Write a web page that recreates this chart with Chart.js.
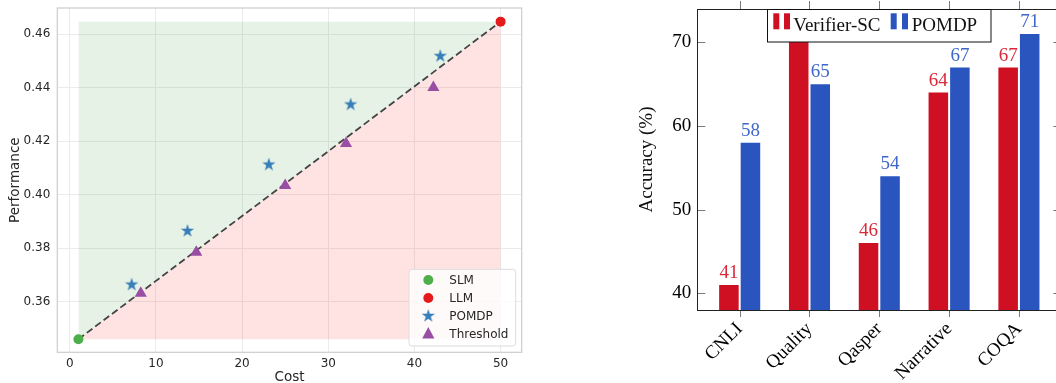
<!DOCTYPE html>
<html>
<head>
<meta charset="utf-8">
<script src="https://cdn.jsdelivr.net/npm/chart.js@4.4.1/dist/chart.umd.min.js"></script>
<style>
  html, body { margin: 0; padding: 0; background: #fff; overflow: hidden; width: 1056px; height: 383px; }
  #left { position: absolute; left: 0; top: 0; }
  #right { position: absolute; left: 600px; top: 0; }
</style>
</head>
<body>
<canvas id="left" width="540" height="383"></canvas>
<canvas id="right" width="480" height="383"></canvas>
<script>
// left panel - cost vs performance
const SLM_POINT = [{ x: 1, y: 0.3459 }];
const LLM_POINT = [{ x: 50, y: 0.4647 }];
const POMDP_COST = [7.18, 13.66, 23.1, 32.6, 43.0];
const POMDP_PERF = [0.3663, 0.3864, 0.4112, 0.4337, 0.4518];
const THRESH_COST = [8.24, 14.68, 25.0, 32.06, 42.2];
const THRESH_PERF = [0.3631, 0.3784, 0.4034, 0.4191, 0.4401];
const COST_TICKS = [0, 10, 20, 30, 40, 50];
const PERF_TICKS = [0.36, 0.38, 0.40, 0.42, 0.44, 0.46];
const LEFT_LEGEND = ["SLM", "LLM", "POMDP", "Threshold"];

// right panel - accuracy per dataset
const DATASETS = ["CNLI", "Quality", "Qasper", "Narrative", "COQA"];
const VERIFIER_SC = [41, 75, 46, 64, 67]; // Quality bar runs off the top, hidden by the legend
const POMDP_ACC = [58, 65, 54, 67, 71];
const ACC_TICKS = [40, 50, 60, 70];

const SANS = '"DejaVu Sans", sans-serif';
const SERIF = '"Liberation Serif", "DejaVu Serif", serif';
const GREEN = "#4daf4a", RED = "#e41a1c", BLUE = "#377eb8", PURPLE = "#984ea3";

const pts = (xs, ys) => xs.map((x, i) => ({ x, y: ys[i] }));

// fixed axis box sizes, and no extra label overhang padding from chart.js
const fixSize = (w, h) => (s) => {
  if (w != null) s.width = w;
  if (h != null) s.height = h;
  s.paddingLeft = s.paddingRight = s.paddingTop = s.paddingBottom = 0;
};

// matplotlib-ish filled star, used as a point style
function starImage(r, color) {
  const c = document.createElement("canvas");
  const s = Math.ceil(r * 2 + 2);
  c.width = c.height = s;
  const g = c.getContext("2d");
  g.translate(s / 2, s / 2);
  g.beginPath();
  for (let i = 0; i < 10; i++) {
    const rad = i % 2 ? r * 0.382 : r;
    const a = -Math.PI / 2 + i * Math.PI / 5;
    g.lineTo(rad * Math.cos(a), rad * Math.sin(a));
  }
  g.closePath();
  g.fillStyle = color;
  g.fill();
  return c;
}
const STAR = starImage(7, BLUE);

function drawMarker(ctx, kind, x, y) {
  ctx.save();
  if (kind === 0 || kind === 1) {
    ctx.fillStyle = kind === 0 ? GREEN : RED;
    ctx.beginPath(); ctx.arc(x, y, 5, 0, Math.PI * 2); ctx.fill();
  } else if (kind === 2) {
    ctx.drawImage(STAR, x - STAR.width / 2, y - STAR.height / 2);
  } else {
    ctx.fillStyle = PURPLE;
    ctx.beginPath();
    ctx.moveTo(x, y - 7); ctx.lineTo(x + 6.1, y + 4.5); ctx.lineTo(x - 6.1, y + 4.5);
    ctx.closePath(); ctx.fill();
  }
  ctx.restore();
}

const leftDecor = {
  id: "leftDecor",
  afterDraw(chart) {
    const { ctx, chartArea: a } = chart;
    ctx.save();
    // frame
    ctx.strokeStyle = "#cccccc";
    ctx.lineWidth = 1.2;
    ctx.strokeRect(a.left, a.top, a.right - a.left, a.bottom - a.top);
    // axis titles
    ctx.fillStyle = "#262626";
    ctx.font = "13.5px " + SANS;
    ctx.textAlign = "center";
    ctx.textBaseline = "middle";
    ctx.fillText("Cost", (a.left + a.right) / 2, 377);
    ctx.save();
    ctx.translate(15, (a.top + a.bottom) / 2);
    ctx.rotate(-Math.PI / 2);
    ctx.fillText("Performance", 0, 0);
    ctx.restore();
    // legend
    const bx = 409, by = 269.3, bw = 106.7, bh = 76.7;
    ctx.beginPath();
    ctx.roundRect(bx, by, bw, bh, 3);
    ctx.fillStyle = "rgba(255,255,255,0.8)";
    ctx.fill();
    ctx.strokeStyle = "#dcdcdc";
    ctx.lineWidth = 1;
    ctx.stroke();
    ctx.font = "12px " + SANS;
    ctx.textAlign = "left";
    LEFT_LEGEND.forEach((name, i) => {
      const y = 280 + i * 18;
      drawMarker(ctx, i, 428.3, y);
      ctx.fillStyle = "#262626";
      ctx.fillText(name, 449.3, y + 1);
    });
    ctx.restore();
  }
};

new Chart(document.getElementById("left"), {
  type: "line",
  data: {
    datasets: [
      { label: "SLM", data: SLM_POINT, showLine: false, pointRadius: 5, pointBackgroundColor: GREEN, pointBorderWidth: 0 },
      { label: "LLM", data: LLM_POINT, showLine: false, pointRadius: 5, pointBackgroundColor: RED, pointBorderWidth: 0 },
      { label: "POMDP", data: pts(POMDP_COST, POMDP_PERF), showLine: false, pointStyle: STAR, pointRadius: 7 },
      { label: "Threshold", data: pts(THRESH_COST, THRESH_PERF), showLine: false, pointStyle: "triangle", pointRadius: 7, pointBackgroundColor: PURPLE, pointBorderWidth: 0 },
      { label: "diag", data: [SLM_POINT[0], LLM_POINT[0]], borderColor: "#444444", borderWidth: 1.8, borderDash: [7, 3.5], pointRadius: 0, fill: false },
      { label: "above", data: [SLM_POINT[0], LLM_POINT[0]], borderWidth: 0, pointRadius: 0, fill: { value: LLM_POINT[0].y }, backgroundColor: "rgba(0,128,0,0.1)" },
      { label: "below", data: [SLM_POINT[0], LLM_POINT[0]], borderWidth: 0, pointRadius: 0, fill: { value: SLM_POINT[0].y }, backgroundColor: "rgba(255,0,0,0.11)" },
    ],
  },
  options: {
    responsive: false,
    animation: false,
    layout: { padding: { top: 6, right: 18.3, left: 0, bottom: 0 } },
    plugins: { legend: { display: false }, tooltip: { enabled: false } },
    scales: {
      x: {
        type: "linear", min: -1.45, max: 52.45,
        afterBuildTicks: (s) => { s.ticks = COST_TICKS.map((v) => ({ value: v })); },
        afterFit: fixSize(null, 30.7),
        ticks: { font: { family: SANS, size: 12 }, color: "#262626", padding: 4, maxRotation: 0 },
        grid: { color: "#ebebeb", drawTicks: false },
        border: { display: false },
      },
      y: {
        min: 0.341, max: 0.4698,
        afterBuildTicks: (s) => { s.ticks = PERF_TICKS.map((v) => ({ value: v })); },
        afterFit: fixSize(57.3, null),
        ticks: { font: { family: SANS, size: 12 }, color: "#262626", padding: 7, callback: (v) => v.toFixed(2) },
        grid: { color: "#ebebeb", drawTicks: false },
        border: { display: false },
      },
    },
  },
  plugins: [leftDecor],
});

// right panel: pgfplots look - frame, inside ticks, value labels, boxed legend
const BAR_RED = "#cf0f22", BAR_BLUE = "#2b55be";
const LABEL_RED = "#d82a3a", LABEL_BLUE = "#3f66c9";

const rightDecor = {
  id: "rightDecor",
  afterDraw(chart) {
    const { ctx, chartArea: a, scales } = chart;
    ctx.save();
    // value labels
    ctx.font = "19px " + SERIF;
    ctx.textAlign = "center";
    ctx.textBaseline = "alphabetic";
    [LABEL_RED, LABEL_BLUE].forEach((col, d) => {
      const meta = chart.getDatasetMeta(d);
      const vals = chart.data.datasets[d].data;
      meta.data.forEach((el, i) => {
        ctx.fillStyle = col;
        ctx.fillText(String(vals[i].y), el.x, el.y - 7);
      });
    });
    // ticks
    ctx.strokeStyle = "#7a7a7a";
    ctx.lineWidth = 1;
    ctx.beginPath();
    ACC_TICKS.forEach((v) => {
      const y = Math.round(scales.y.getPixelForValue(v)) + 0.5;
      ctx.moveTo(a.left, y); ctx.lineTo(a.left + 8, y);
      ctx.moveTo(a.right - 8, y); ctx.lineTo(a.right, y);
    });
    DATASETS.forEach((_, i) => {
      const x = Math.round(scales.x.getPixelForValue(i)) + 0.5;
      ctx.moveTo(x, a.top - 8); ctx.lineTo(x, a.top);
      ctx.moveTo(x, a.bottom); ctx.lineTo(x, a.bottom + 7);
    });
    ctx.stroke();
    // frame
    ctx.strokeStyle = "#222";
    ctx.strokeRect(Math.round(a.left) + 0.5, Math.round(a.top) + 0.5, a.right - a.left, Math.round(a.bottom - a.top));
    // legend
    const bx = 167.5, by = 9.5, bw = 223.5, bh = 32.5;
    ctx.fillStyle = "#fff";
    ctx.fillRect(bx, by, bw, bh);
    ctx.strokeStyle = "#111";
    ctx.strokeRect(bx, by, bw, bh);
    ctx.fillStyle = BAR_RED;
    ctx.fillRect(173.3, 13.3, 6, 16);
    ctx.fillRect(184, 13.3, 6, 16);
    ctx.fillStyle = BAR_BLUE;
    ctx.fillRect(290.7, 13.3, 6, 16);
    ctx.fillRect(302, 13.3, 6, 16);
    ctx.fillStyle = "#111";
    ctx.textAlign = "left";
    ctx.fillText(chart.data.datasets[0].label, 193.3, 31);
    ctx.fillText(chart.data.datasets[1].label, 311.7, 31);
    // y title
    ctx.save();
    ctx.translate(46.7, (a.top + a.bottom) / 2);
    ctx.rotate(-Math.PI / 2);
    ctx.textAlign = "center";
    ctx.textBaseline = "middle";
    ctx.fillText("Accuracy (%)", 0, 0);
    ctx.restore();
    ctx.restore();
  }
};

new Chart(document.getElementById("right"), {
  type: "bar",
  data: {
    datasets: [
      { label: "Verifier-SC", data: VERIFIER_SC.map((v, i) => ({ x: i, y: v })), backgroundColor: BAR_RED, categoryPercentage: 0.617, barPercentage: 0.907, clip: 0 },
      { label: "POMDP", data: POMDP_ACC.map((v, i) => ({ x: i, y: v })), backgroundColor: BAR_BLUE, categoryPercentage: 0.617, barPercentage: 0.907, clip: 0 },
    ],
  },
  options: {
    responsive: false,
    animation: false,
    layout: { padding: { top: 9, right: 18.7, left: 0, bottom: 0 } },
    plugins: { legend: { display: false }, tooltip: { enabled: false } },
    scales: {
      x: {
        type: "linear", min: -0.607, max: 4.607, offset: false,
        afterBuildTicks: (s) => { s.ticks = DATASETS.map((_, i) => ({ value: i })); },
        afterFit: fixSize(null, 73),
        ticks: { font: { family: SERIF, size: 19 }, color: "#000", padding: 8, minRotation: 45, maxRotation: 45, autoSkip: false, callback: (v) => DATASETS[v] },
        grid: { display: false, drawTicks: false, offset: false },
        border: { display: false },
      },
      y: {
        min: 38, max: 74,
        afterBuildTicks: (s) => { s.ticks = ACC_TICKS.map((v) => ({ value: v })); },
        afterFit: fixSize(97.3, null),
        ticks: { font: { family: SERIF, size: 19 }, color: "#000", padding: 6 },
        grid: { display: false, drawTicks: false },
        border: { display: false },
      },
    },
  },
  plugins: [rightDecor],
});
</script>
</body>
</html>
